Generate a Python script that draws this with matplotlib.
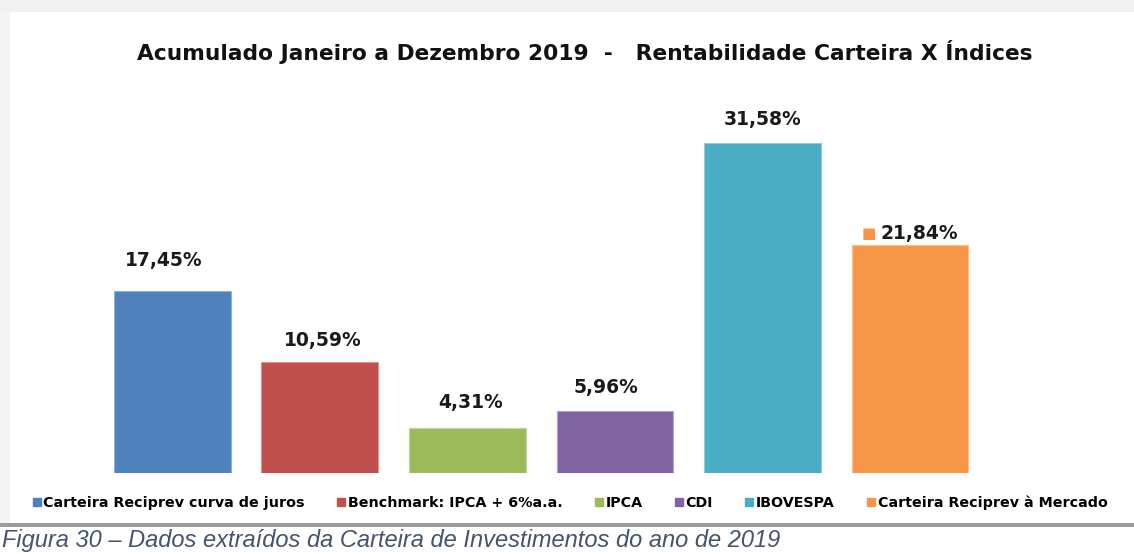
import matplotlib
matplotlib.use("Agg")
import matplotlib.pyplot as plt
from matplotlib.patches import Rectangle
from matplotlib.lines import Line2D

# data
categories = ["Carteira Reciprev curva de juros", "Benchmark: IPCA + 6%a.a.", "IPCA",
              "CDI", "IBOVESPA", "Carteira Reciprev à Mercado"]
values = [17.45, 10.59, 4.31, 5.96, 31.58, 21.84]
colors = ["#4F81BD", "#C0504D", "#9BBB59", "#8064A2", "#4BACC6", "#F79646"]
title = "Acumulado Janeiro a Dezembro 2019  -   Rentabilidade Carteira X Índices"
caption = "Figura 30 – Dados extraídos da Carteira de Investimentos do ano de 2019"

W, H = 1134, 554
fig = plt.figure(figsize=(W / 100, H / 100), dpi=100)
fig.patch.set_facecolor("white")

# shadowed frame around the chart area
fig.add_artist(Rectangle((0, 1 - 12 / H), 1, 12 / H, transform=fig.transFigure,
                         facecolor="#f1f1f1", edgecolor="none", zorder=0))
fig.add_artist(Rectangle((0, 1 - 523 / H), 10 / W, 511 / H, transform=fig.transFigure,
                         facecolor="#f3f3f3", edgecolor="none", zorder=0))
fig.add_artist(Rectangle((0, 1 - 527 / H), 1, 4 / H, transform=fig.transFigure,
                         facecolor="#9c9c9c", edgecolor="none", zorder=0))

ax = fig.add_axes([10 / W, 1 - 473 / H, 1124 / W, 461 / H])
ax.set_facecolor("none")
x = list(range(len(values)))
edge = ["#8fb0d8", "#d98f8d", "#c2d69b", "#b2a2c7", "#92cddc", "#fac090"]
ax.bar(x, values, width=0.79, color=colors, edgecolor=edge, linewidth=0.8)
ax.set_xlim(-1.1, 6.52)
ax.set_ylim(0, 44.1)
ax.axis("off")

# data labels (offsets in pixels)
dx = [-9, 3, 3, -9, 0, 10]
dy = [30, 22, 25, 23, 23, 11]
for i, v in enumerate(values):
    lbl = f"{v:.2f}".replace(".", ",") + "%"
    ax.annotate(lbl, (x[i], v), xytext=(dx[i] * 0.72, dy[i] * 0.72),
                textcoords="offset points", ha="center", va="center",
                fontsize=13.5, fontweight="bold", color="#1a1a1a")
# small legend key in front of the last label
ax.annotate("■", (x[5], values[5]), xytext=(-41 * 0.72, 11 * 0.72),
            textcoords="offset points", ha="center", va="center",
            fontsize=11, color=colors[5])

fig.text(585 / W, 1 - 52 / H, title, ha="center", va="center",
         fontsize=15.7, fontweight="bold", color="#111111")

handles = [Line2D([], [], marker="s", linestyle="none", markersize=6,
                  markerfacecolor=c, markeredgecolor=c) for c in colors]
leg = fig.legend(handles, categories, loc="center", bbox_to_anchor=(570 / W, 1 - 503 / H),
                 ncol=6, frameon=False, handlelength=0.6, handletextpad=0.15,
                 columnspacing=2.25, prop={"weight": "bold", "size": 10.3})

fig.text(2 / W, 1 - 541 / H, caption, ha="left", va="center", fontsize=17,
         style="italic", family="Liberation Sans", color="#44546A")

fig.savefig("out.png", dpi=100)
